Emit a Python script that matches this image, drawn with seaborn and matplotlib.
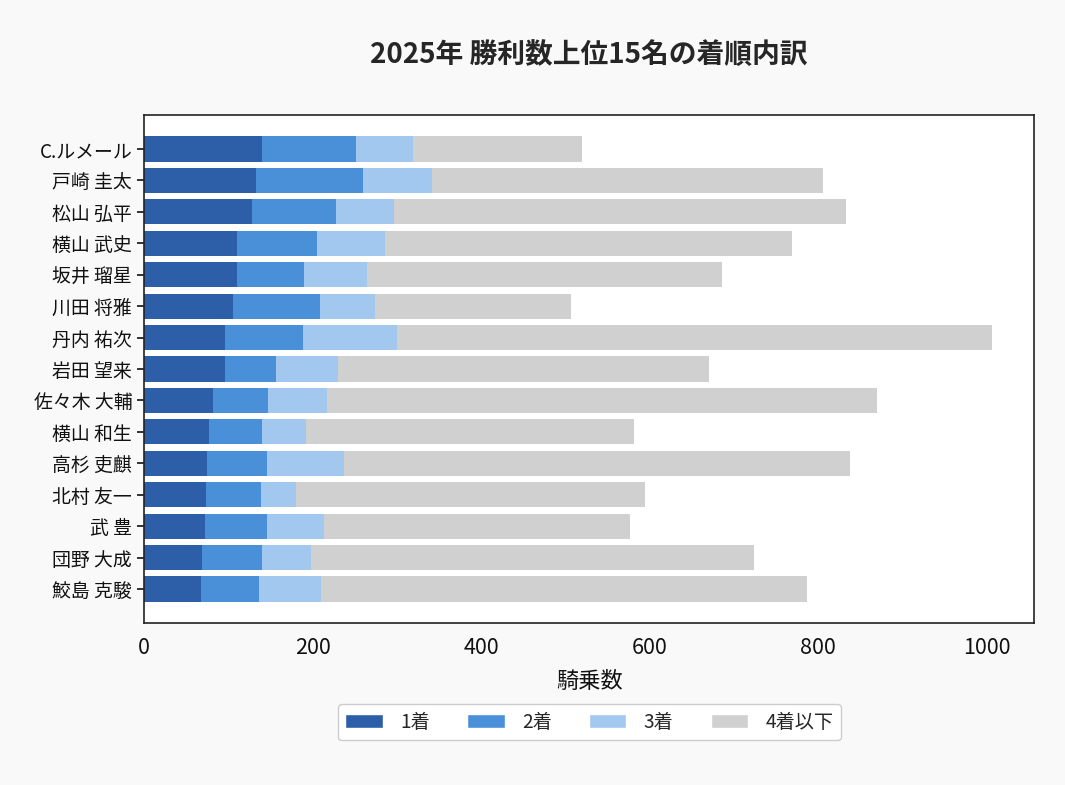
import numpy as np
import pandas as pd
import matplotlib
matplotlib.use("Agg")
import matplotlib.pyplot as plt
import seaborn as sns
from matplotlib.patches import Patch

# ---------------- DATEN ----------------
jockeys = ["C.ルメール", "戸崎 圭太", "松山 弘平", "横山 武史", "坂井 瑠星",
           "川田 将雅", "丹内 祐次", "岩田 望来", "佐々木 大輔", "横山 和生",
           "高杉 吏麒", "北村 友一", "武 豊", "団野 大成", "鮫島 克駿"]
first = [140, 133, 128, 110, 110, 106, 96, 96, 82, 77, 75, 74, 72, 69, 68]
second = [112, 127, 100, 95, 80, 103, 93, 61, 65, 63, 71, 65, 74, 71, 68]
third = [67, 82, 69, 81, 75, 65, 111, 73, 70, 52, 91, 41, 67, 58, 74]
rides = [520, 805, 833, 769, 686, 506, 1006, 670, 870, 581, 838, 594, 576, 724, 786]

labels = ["1着", "2着", "3着", "4着以下"]
colors = ["#2c5fa8", "#4a90d9", "#a3c8ef", "#d0d0d0"]

# ---------------- PLOT ----------------
sns.set_style("white")
plt.rcParams['font.family'] = ['Noto Sans CJK JP', 'DejaVu Sans']

df = pd.DataFrame({"name": jockeys, "first": first, "second": second,
                   "third": third, "rides": rides})
df["c1"] = df["first"]
df["c2"] = df["c1"] + df["second"]
df["c3"] = df["c2"] + df["third"]

fig, ax = plt.subplots(figsize=(10.65, 7.85), dpi=100)
fig.patch.set_facecolor("#f9f9f9")
ax.set_facecolor("white")

# gestapelt: von hinten (gesamt) nach vorne (1着)
for col, color in zip(["rides", "c3", "c2", "c1"], colors[::-1]):
    sns.barplot(data=df, x=col, y="name", color=color, orient="h",
                width=0.8, saturation=1, linewidth=0, ax=ax)

n = len(jockeys)
ax.set_ylim(n - 1 + 1.08, -1.08)
ax.set_xlim(0, 1056)
ax.set_xticks([0, 200, 400, 600, 800, 1000])
ax.set_ylabel("")
ax.set_xlabel("騎乗数", fontsize=16, labelpad=8, color="#111111")
ax.tick_params(axis="x", labelsize=15.5, length=5, width=1.2, pad=5,
               colors="#111111")
ax.tick_params(axis="y", labelsize=13.6, length=5, width=1.2, left=True,
               colors="#111111")
for s in ax.spines.values():
    s.set_visible(True)
    s.set_color("#222222")
    s.set_linewidth(1.2)

fig.suptitle("2025年 勝利数上位15名の着順内訳", fontsize=20, fontweight="bold",
             x=0.5525, y=0.948)

handles = [Patch(facecolor=c, label=l) for c, l in zip(colors, labels)]
fig.legend(handles=handles, loc="center", bbox_to_anchor=(0.5535, 0.080),
           ncol=4, fontsize=13.8, frameon=True, handlelength=1.95,
           columnspacing=1.95, handletextpad=0.9, fancybox=True,
           edgecolor="#cccccc", facecolor="white", framealpha=1)

plt.subplots_adjust(left=0.1352, right=0.971, top=0.8535, bottom=0.2064)
plt.savefig("out.png", dpi=100, facecolor=fig.get_facecolor())
